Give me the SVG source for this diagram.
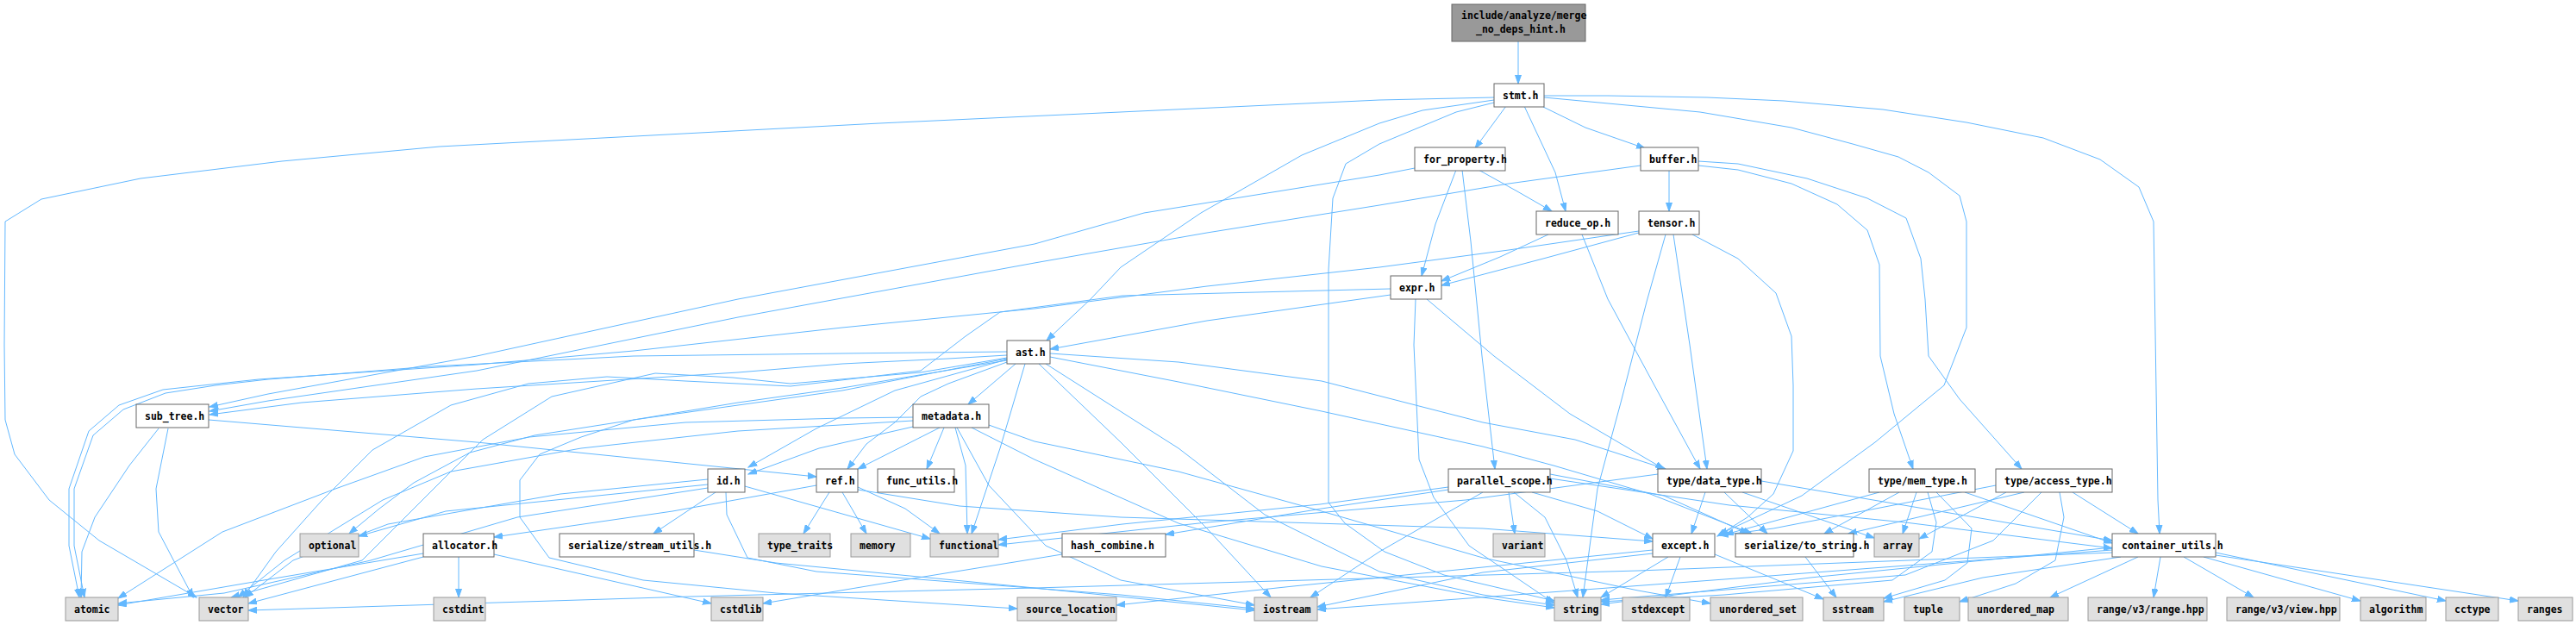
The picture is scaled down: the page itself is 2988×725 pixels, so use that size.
<svg xmlns="http://www.w3.org/2000/svg" width="2988" height="725" viewBox="0 0 2988 725">
<style>
.e{fill:none;stroke:#63b8ff;stroke-width:1;marker-end:url(#a)}
.n rect{fill:#ffffff;stroke:#666666;stroke-width:1}
.s rect{fill:#e0e0e0;stroke:#999999;stroke-width:1}
.r rect{fill:#999999;stroke:#666666;stroke-width:1}
text{font-family:"DejaVu Sans Mono","Liberation Mono",monospace;font-size:11.5px;font-weight:bold;fill:#000000}
</style>
<defs>
<marker id="a" markerWidth="11" markerHeight="8" refX="10" refY="4" orient="auto" markerUnits="userSpaceOnUse">
<path d="M0,0.5 L10,4 L0,7.5 z" fill="#63b8ff" stroke="#63b8ff" stroke-width="1"/>
</marker>
</defs>
<rect width="2988" height="725" fill="#ffffff"/>
<g id="edges">
<path class="e" d="M1761,48 L1761,97"/>
<path class="e" d="M1733,113 L1600,116 L1020,143 L510,170 L327,187 L163,207 L48,231 L6,257 L5,400 L6,487 L17,527 L57,580 L115,627 L228,693"/>
<path class="e" d="M1733,116 L1650,128 L1600,143 L1510,180 L1393,247 L1300,310 L1265,347 L1232,378 L1214,395"/>
<path class="e" d="M1733,119 L1689,130 L1600,167 L1561,190 L1546,230 L1541,313 L1541,583 L1560,607 L1606,640 L1675,667 L1803,697"/>
<path class="e" d="M1747,123 L1711,172"/>
<path class="e" d="M1768,123 L1804,200 L1816,245"/>
<path class="e" d="M1790,124 L1839,148 L1908,172"/>
<path class="e" d="M1791,113 L1972,130 L2078,148 L2149,167 L2202,182 L2237,200 L2273,227 L2281,257 L2281,380 L2255,447 L2175,513 L2090,575 L1994,620"/>
<path class="e" d="M1791,111 L1865,111 L1980,113 L2069,117 L2184,127 L2281,142 L2370,160 L2436,185 L2481,217 L2498,257 L2503,580 L2505,619"/>
<path class="e" d="M1641,195 L1600,203 L1327,247 L1200,283 L856,347 L553,413 L311,457 L243,472"/>
<path class="e" d="M1689,197 L1665,260 L1649,320"/>
<path class="e" d="M1696,197 L1706,280 L1719,413 L1734,544"/>
<path class="e" d="M1715,197 L1760,222 L1800,245"/>
<path class="e" d="M1903,192 L1750,213 L1600,238 L1400,270 L1200,305 L856,368 L553,430 L311,465 L243,477"/>
<path class="e" d="M1936,198 L1936,245"/>
<path class="e" d="M1970,192 L2016,197 L2078,213 L2131,237 L2166,267 L2180,307 L2181,413 L2197,480 L2219,544"/>
<path class="e" d="M1970,187 L2016,190 L2096,207 L2166,230 L2211,253 L2228,300 L2233,347 L2237,413 L2273,463 L2345,544"/>
<path class="e" d="M1796,272 L1740,298 L1672,326"/>
<path class="e" d="M1835,272 L1865,347 L1919,447 L1972,544"/>
<path class="e" d="M1901,268 L1750,290 L1600,310 L1400,332 L1200,358 L977,380 L735,407 L553,423 L300,440 L189,452 L138,470 L103,500 L80,567 L80,633 L92,693"/>
<path class="e" d="M1901,270 L1790,300 L1672,331"/>
<path class="e" d="M1932,272 L1910,350 L1880,467 L1853,567 L1836,693"/>
<path class="e" d="M1941,272 L1960,400 L1980,544"/>
<path class="e" d="M1963,272 L2016,300 L2060,340 L2078,390 L2080,447 L2080,523 L2057,573 L2027,600 L1992,622"/>
<path class="e" d="M1613,342 L1400,372 L1218,405"/>
<path class="e" d="M1613,335 L1302,343 L1160,362 L1120,390 L1068,430 L917,448 L795,442 L704,437 L613,445 L523,470 L432,522 L372,582 L320,640 L282,693"/>
<path class="e" d="M1642,347 L1640,400 L1646,533 L1663,577 L1704,633 L1803,700"/>
<path class="e" d="M1655,347 L1733,413 L1821,480 L1930,544"/>
<path class="e" d="M1178,422 L1123,469"/>
<path class="e" d="M1189,422 L1160,520 L1127,619"/>
<path class="e" d="M1168,420 L1100,445 L1068,460 L1038,490 L1005,515 L983,544"/>
<path class="e" d="M1168,417 L1038,453 L947,497 L868,542"/>
<path class="e" d="M1205,422 L1300,513 L1400,613 L1474,693"/>
<path class="e" d="M1213,422 L1367,520 L1467,597 L1600,663 L1720,690 L1803,702"/>
<path class="e" d="M1218,410 L1367,420 L1533,442 L1720,490 L1827,510 L1932,544"/>
<path class="e" d="M1218,414 L1367,443 L1533,477 L1720,518 L1802,540 L1914,573 L2032,619"/>
<path class="e" d="M1168,408 L977,410 L735,413 L500,425 L311,440 L250,447 L192,456 L143,475 L108,505 L86,567 L86,633 L98,693"/>
<path class="e" d="M1168,412 L1100,416 L977,422 L856,432 L553,451 L350,467 L243,481"/>
<path class="e" d="M1168,415 L1068,432 L917,445 L850,438 L760,433 L640,460 L560,510 L470,600 L420,650 L268,693"/>
<path class="e" d="M1168,416 L977,453 L735,487 L620,505 L545,525 L480,560 L440,590 L405,619"/>
<path class="e" d="M1168,418 L977,450 L856,467 L735,487 L674,507 L626,527 L603,557 L603,600 L637,647 L746,673 L900,688 L1180,706"/>
<path class="e" d="M1090,496 L995,544"/>
<path class="e" d="M1095,496 L1075,544"/>
<path class="e" d="M1108,496 L1120,540 L1122,619"/>
<path class="e" d="M1059,495 L950,520 L868,550"/>
<path class="e" d="M1059,484 L977,485 L795,490 L614,507 L492,530 L389,567 L258,617 L137,694"/>
<path class="e" d="M1059,488 L856,500 L674,520 L523,547 L444,580 L330,650 L276,693"/>
<path class="e" d="M1110,496 L1147,563 L1213,633 L1300,673 L1455,702"/>
<path class="e" d="M1127,496 L1200,533 L1367,607 L1533,657 L1720,693 L1803,705"/>
<path class="e" d="M1147,493 L1200,512 L1367,547 L1533,593 L1720,647 L1900,685 L1984,700"/>
<path class="e" d="M184,497 L150,540 L110,600 L95,640 L94,693"/>
<path class="e" d="M195,497 L181,567 L184,617 L224,693"/>
<path class="e" d="M242,487 L553,513 L947,553"/>
<path class="e" d="M821,562 L517,593 L416,622"/>
<path class="e" d="M830,571 L758,619"/>
<path class="e" d="M821,556 L650,573 L450,608 L340,650 L284,693"/>
<path class="e" d="M821,566 L600,600 L430,650 L260,688 L137,700"/>
<path class="e" d="M864,564 L1079,625"/>
<path class="e" d="M842,571 L843,597 L867,647 L947,663 L1300,690 L1455,706"/>
<path class="e" d="M962,571 L932,619"/>
<path class="e" d="M977,571 L1005,619"/>
<path class="e" d="M995,565 L1050,590 L1090,619"/>
<path class="e" d="M947,563 L780,593 L573,623"/>
<path class="e" d="M995,568 L1113,587 L1300,600 L1720,613 L1917,628"/>
<path class="e" d="M532,646 L532,693"/>
<path class="e" d="M573,643 L825,700"/>
<path class="e" d="M491,646 L288,700"/>
<path class="e" d="M491,642 L300,674 L137,702"/>
<path class="e" d="M805,638 L900,653 L1200,682 L1455,708"/>
<path class="e" d="M1232,643 L1047,673 L885,700"/>
<path class="e" d="M1680,568 L1533,590 L1352,620"/>
<path class="e" d="M1680,565 L1531,585 L1302,608 L1158,626"/>
<path class="e" d="M1720,571 L1600,640 L1520,693"/>
<path class="e" d="M1750,571 L1757,619"/>
<path class="e" d="M1756,571 L1792,600 L1817,650 L1830,693"/>
<path class="e" d="M1777,571 L1853,593 L1917,625"/>
<path class="e" d="M1798,550 L1930,575 L2028,619"/>
<path class="e" d="M1798,555 L2006,586 L2210,606 L2450,636"/>
<path class="e" d="M1978,571 L1962,619"/>
<path class="e" d="M2000,571 L2050,619"/>
<path class="e" d="M2021,571 L2174,624"/>
<path class="e" d="M2043,558 L2450,627"/>
<path class="e" d="M1923,550 L1700,580 L1400,606 L1158,632"/>
<path class="e" d="M2180,571 L2001,620"/>
<path class="e" d="M2203,571 L2116,619"/>
<path class="e" d="M2223,571 L2207,619"/>
<path class="e" d="M2279,571 L2450,630"/>
<path class="e" d="M2236,571 L2246,606 L2241,640 L2195,673 L2000,690 L1857,698"/>
<path class="e" d="M2246,571 L2287,613 L2282,653 L2256,673 L2185,694"/>
<path class="e" d="M2315,563 L2057,613 L1995,621"/>
<path class="e" d="M2348,571 L2144,619"/>
<path class="e" d="M2327,571 L2226,625"/>
<path class="e" d="M2404,571 L2480,619"/>
<path class="e" d="M2368,571 L2312,627 L2210,667 L1857,696"/>
<path class="e" d="M2389,571 L2394,600 L2384,650 L2338,677 L2273,698"/>
<path class="e" d="M1935,646 L1857,693"/>
<path class="e" d="M1949,646 L1932,693"/>
<path class="e" d="M1989,643 L2115,695"/>
<path class="e" d="M1917,638 L1720,658 L1500,680 L1295,702"/>
<path class="e" d="M1917,642 L1720,664 L1528,704"/>
<path class="e" d="M2094,646 L2130,693"/>
<path class="e" d="M2506,646 L2498,693"/>
<path class="e" d="M2533,646 L2614,693"/>
<path class="e" d="M2556,646 L2738,697"/>
<path class="e" d="M2570,641 L2837,697"/>
<path class="e" d="M2570,644 L2921,697"/>
<path class="e" d="M2480,646 L2378,693"/>
<path class="e" d="M2460,646 L2300,670 L2185,698"/>
<path class="e" d="M2450,635 L2100,670 L1857,701"/>
<path class="e" d="M2450,638 L2000,672 L1528,707"/>
<path class="e" d="M2450,641 L1900,662 L1200,682 L800,692 L288,708"/>
</g>
<g id="root" class="r"><rect x="1684" y="5" width="155" height="43"/><text x="1695" y="22">include/analyze/merge</text><text x="1712" y="38">_no_deps_hint.h</text></g>
<g id="stmt" class="n"><rect x="1733" y="97" width="58" height="27"/><text x="1743" y="115">stmt.h</text></g>
<g id="for_property" class="n"><rect x="1641" y="171" width="105" height="27"/><text x="1651" y="189">for_property.h</text></g>
<g id="buffer" class="n"><rect x="1903" y="171" width="67" height="27"/><text x="1913" y="189">buffer.h</text></g>
<g id="reduce_op" class="n"><rect x="1782" y="245" width="95" height="27"/><text x="1792" y="263">reduce_op.h</text></g>
<g id="tensor" class="n"><rect x="1901" y="245" width="70" height="27"/><text x="1911" y="263">tensor.h</text></g>
<g id="expr" class="n"><rect x="1613" y="320" width="59" height="27"/><text x="1623" y="338">expr.h</text></g>
<g id="ast" class="n"><rect x="1168" y="395" width="50" height="27"/><text x="1178" y="413">ast.h</text></g>
<g id="sub_tree" class="n"><rect x="158" y="469" width="84" height="27"/><text x="168" y="487">sub_tree.h</text></g>
<g id="metadata" class="n"><rect x="1059" y="469" width="88" height="27"/><text x="1069" y="487">metadata.h</text></g>
<g id="id" class="n"><rect x="821" y="544" width="43" height="27"/><text x="831" y="562">id.h</text></g>
<g id="ref" class="n"><rect x="947" y="544" width="48" height="27"/><text x="957" y="562">ref.h</text></g>
<g id="func_utils" class="n"><rect x="1018" y="544" width="89" height="27"/><text x="1028" y="562">func_utils.h</text></g>
<g id="parallel_scope" class="n"><rect x="1680" y="544" width="118" height="27"/><text x="1690" y="562">parallel_scope.h</text></g>
<g id="data_type" class="n"><rect x="1923" y="544" width="120" height="27"/><text x="1933" y="562">type/data_type.h</text></g>
<g id="mem_type" class="n"><rect x="2168" y="544" width="123" height="27"/><text x="2178" y="562">type/mem_type.h</text></g>
<g id="access_type" class="n"><rect x="2315" y="544" width="135" height="27"/><text x="2325" y="562">type/access_type.h</text></g>
<g id="optional" class="s"><rect x="348" y="619" width="68" height="27"/><text x="358" y="637">optional</text></g>
<g id="allocator" class="n"><rect x="491" y="619" width="82" height="27"/><text x="501" y="637">allocator.h</text></g>
<g id="stream_utils" class="n"><rect x="649" y="619" width="156" height="27"/><text x="659" y="637">serialize/stream_utils.h</text></g>
<g id="type_traits" class="s"><rect x="880" y="619" width="83" height="27"/><text x="890" y="637">type_traits</text></g>
<g id="memory" class="s"><rect x="987" y="619" width="69" height="27"/><text x="997" y="637">memory</text></g>
<g id="functional" class="s"><rect x="1079" y="619" width="79" height="27"/><text x="1089" y="637">functional</text></g>
<g id="hash_combine" class="n"><rect x="1232" y="619" width="120" height="27"/><text x="1242" y="637">hash_combine.h</text></g>
<g id="variant" class="s"><rect x="1732" y="619" width="60" height="27"/><text x="1742" y="637">variant</text></g>
<g id="except" class="n"><rect x="1917" y="619" width="72" height="27"/><text x="1927" y="637">except.h</text></g>
<g id="to_string" class="n"><rect x="2013" y="619" width="137" height="27"/><text x="2023" y="637">serialize/to_string.h</text></g>
<g id="array" class="s"><rect x="2174" y="619" width="52" height="27"/><text x="2184" y="637">array</text></g>
<g id="container_utils" class="n"><rect x="2450" y="619" width="120" height="27"/><text x="2461" y="637">container_utils.h</text></g>
<g id="atomic" class="s"><rect x="76" y="693" width="61" height="27"/><text x="86" y="711">atomic</text></g>
<g id="vector" class="s"><rect x="231" y="693" width="57" height="27"/><text x="241" y="711">vector</text></g>
<g id="cstdint" class="s"><rect x="503" y="693" width="60" height="27"/><text x="513" y="711">cstdint</text></g>
<g id="cstdlib" class="s"><rect x="825" y="693" width="60" height="27"/><text x="835" y="711">cstdlib</text></g>
<g id="source_location" class="s"><rect x="1180" y="693" width="115" height="27"/><text x="1190" y="711">source_location</text></g>
<g id="iostream" class="s"><rect x="1455" y="693" width="73" height="27"/><text x="1465" y="711">iostream</text></g>
<g id="string" class="s"><rect x="1803" y="693" width="54" height="27"/><text x="1813" y="711">string</text></g>
<g id="stdexcept" class="s"><rect x="1882" y="693" width="78" height="27"/><text x="1892" y="711">stdexcept</text></g>
<g id="unordered_set" class="s"><rect x="1984" y="693" width="107" height="27"/><text x="1994" y="711">unordered_set</text></g>
<g id="sstream" class="s"><rect x="2115" y="693" width="70" height="27"/><text x="2125" y="711">sstream</text></g>
<g id="tuple" class="s"><rect x="2209" y="693" width="64" height="27"/><text x="2219" y="711">tuple</text></g>
<g id="unordered_map" class="s"><rect x="2283" y="693" width="116" height="27"/><text x="2293" y="711">unordered_map</text></g>
<g id="range_hpp" class="s"><rect x="2422" y="693" width="138" height="27"/><text x="2432" y="711">range/v3/range.hpp</text></g>
<g id="view_hpp" class="s"><rect x="2583" y="693" width="131" height="27"/><text x="2593" y="711">range/v3/view.hpp</text></g>
<g id="algorithm" class="s"><rect x="2738" y="693" width="76" height="27"/><text x="2748" y="711">algorithm</text></g>
<g id="cctype" class="s"><rect x="2837" y="693" width="61" height="27"/><text x="2847" y="711">cctype</text></g>
<g id="ranges" class="s"><rect x="2921" y="693" width="63" height="27"/><text x="2931" y="711">ranges</text></g>
</svg>
